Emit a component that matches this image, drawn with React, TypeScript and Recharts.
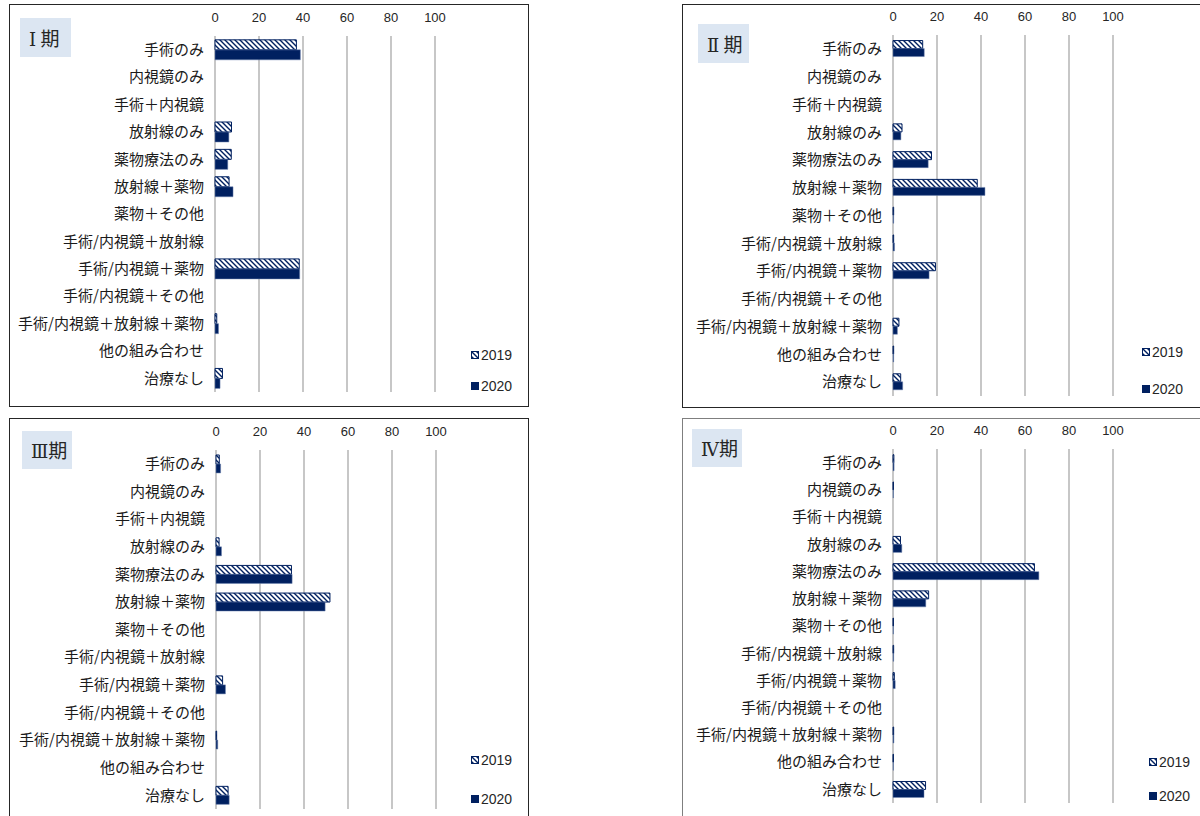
import React from 'react';
import { BarChart, Bar, XAxis, YAxis, CartesianGrid } from 'recharts';

const categories = [
  '手術のみ',
  '内視鏡のみ',
  '手術＋内視鏡',
  '放射線のみ',
  '薬物療法のみ',
  '放射線＋薬物',
  '薬物＋その他',
  '手術/内視鏡＋放射線',
  '手術/内視鏡＋薬物',
  '手術/内視鏡＋その他',
  '手術/内視鏡＋放射線＋薬物',
  '他の組み合わせ',
  '治療なし',
];

const xTicks = [0, 20, 40, 60, 80, 100];
const seriesNames = ['2019', '2020'];
const stageNumerals = ['Ⅰ', 'Ⅱ', 'Ⅲ', 'Ⅳ'];
const stageSuffix = '期';

const stage1_2019 = [37.0, 0, 0, 7.5, 7.4, 6.4, 0, 0, 38.3, 0, 0.8, 0, 3.4];
const stage1_2020 = [38.8, 0, 0, 6.3, 5.8, 8.2, 0, 0, 38.5, 0, 1.6, 0, 2.3];

const stage2_2019 = [13.5, 0, 0, 4.1, 17.5, 38.3, 0.3, 0.3, 19.3, 0, 2.7, 0.3, 3.5];
const stage2_2020 = [14.2, 0, 0, 3.6, 16.0, 41.8, 0.3, 0.7, 16.4, 0, 2.0, 0.3, 4.4];

const stage3_2019 = [1.5, 0, 0, 1.4, 34.3, 51.8, 0, 0, 3.0, 0, 0.3, 0, 5.5];
const stage3_2020 = [2.1, 0, 0, 2.5, 34.6, 49.6, 0, 0, 4.3, 0, 0.8, 0, 6.0];

const stage4_2019 = [0.4, 0.2, 0, 3.4, 64.3, 16.2, 0.2, 0.3, 0.6, 0, 0.3, 0.2, 14.8];
const stage4_2020 = [0.5, 0.2, 0, 4.0, 66.3, 14.9, 0.2, 0.3, 1.0, 0, 0.4, 0.2, 14.1];

const boundaryTicks = categories.map((_, i) => i).concat([categories.length]);

const NAVY = '#002060';
const AXIS_GRAY = '#d9d9d9';
const GRID_GRAY = '#b4b4b4';
const JP_FONT = "'Noto Sans CJK JP', 'Noto Sans', sans-serif";
const NUM_FONT = "'Liberation Sans', Arial, sans-serif";
const SERIF_FONT = "'DejaVu Serif', 'Liberation Serif', 'Noto Sans CJK JP', serif";

function buildRows(a: number[], b: number[]) {
  return categories.map((name, i) => ({ name, y2019: a[i], y2020: b[i] }));
}

type PanelProps = {
  pid: string;
  numeral: string;
  spaced: boolean;
  a: number[];
  b: number[];
  boxLeft: number;
  boxTop: number;
  boxW: number;
  boxH: number;
  x0: number;
  x1: number;
  y0: number;
  y1: number;
  chartW: number;
  gap: string;
  labelBox: { left: number; top: number; w: number; h: number };
  legend: { left: number; y1: number; y2: number };
  borderColor?: string;
};

function HatchDef({ id }: { id: string }) {
  return (
    <pattern id={id} patternUnits="userSpaceOnUse" width="5" height="5">
      <rect x="0" y="0" width="5" height="5" fill="#ffffff" />
      <path d="M-1,-1 L6,6 M4,-1 L6,1 M-1,4 L1,6" stroke={NAVY} strokeWidth="1.4" />
    </pattern>
  );
}

function Panel(p: PanelProps) {
  const rows = buildRows(p.a, p.b);
  const contentH = p.boxH - 2;
  const hatchId = 'hatch-' + p.pid;
  const legHatchId = 'leghatch-' + p.pid;
  return (
    <div
      style={{
        position: 'absolute',
        left: p.boxLeft,
        top: p.boxTop,
        width: p.boxW,
        height: p.boxH,
        boxSizing: 'border-box',
        border: '1px solid ' + (p.borderColor || '#262626'),
        background: '#ffffff',
      }}
    >
      <div
        style={{
          position: 'absolute',
          left: p.labelBox.left,
          top: p.labelBox.top,
          width: p.labelBox.w,
          height: p.labelBox.h,
          background: '#dce6f2',
          fontFamily: JP_FONT,
          fontSize: 19,
          color: '#262626',
          lineHeight: p.labelBox.h + 'px',
          paddingLeft: 9,
          boxSizing: 'border-box',
          whiteSpace: 'nowrap',
        }}
      >
        <span style={{ fontFamily: SERIF_FONT, fontSize: 18 }}>{p.numeral}</span>
        {p.spaced ? ' ' : ''}
        {stageSuffix}
      </div>
      <div style={{ position: 'absolute', left: 0, top: 0 }}>
        <BarChart
          width={p.chartW}
          height={contentH}
          data={rows}
          layout="vertical"
          barCategoryGap={p.gap}
          barGap={0}
          margin={{ top: p.y0 - 30, right: p.chartW - p.x1, bottom: contentH - p.y1, left: 0 }}
        >
          <defs>
            <HatchDef id={hatchId} />
          </defs>
          <CartesianGrid horizontal={false} stroke={GRID_GRAY} strokeWidth={1.5} />
          <XAxis
            type="number"
            orientation="top"
            domain={[0, 100]}
            ticks={xTicks}
            axisLine={false}
            tickLine={false}
            tickSize={0}
            tickMargin={14}
            height={30}
            tick={{ fill: '#262626', fontSize: 13, fontFamily: NUM_FONT }}
          />
          <YAxis
            yAxisId="bound"
            type="number"
            domain={[0, categories.length]}
            ticks={boundaryTicks}
            reversed
            width={0}
            tick={false}
            tickSize={4}
            tickLine={{ stroke: AXIS_GRAY, strokeWidth: 1.5 }}
            axisLine={{ stroke: AXIS_GRAY, strokeWidth: 2 }}
          />
          <YAxis
            type="category"
            dataKey="name"
            width={p.x0}
            interval={0}
            axisLine={false}
            tickLine={false}
            tickSize={0}
            tickMargin={11}
            tick={{ fill: '#1a1a1a', fontSize: 15, fontFamily: JP_FONT }}
          />
          <Bar
            dataKey="y2019"
            name={seriesNames[0]}
            fill={'url(#' + hatchId + ')'}
            stroke={NAVY}
            strokeWidth={1}
            isAnimationActive={false}
          />
          <Bar dataKey="y2020" name={seriesNames[1]} fill={NAVY} stroke="#6f84b0" strokeWidth={0.5} isAnimationActive={false} />
        </BarChart>
      </div>
      {[0, 1].map((k) => (
        <div
          key={k}
          style={{
            position: 'absolute',
            left: p.legend.left,
            top: (k === 0 ? p.legend.y1 : p.legend.y2) - 9,
            height: 18,
            display: 'flex',
            alignItems: 'center',
            fontFamily: NUM_FONT,
            fontSize: 14,
            color: '#262626',
            whiteSpace: 'nowrap',
          }}
        >
          <svg width={8} height={8} style={{ marginRight: 2 }}>
            {k === 0 ? (
              <>
                <defs>
                  <HatchDef id={legHatchId} />
                </defs>
                <rect x={0.5} y={0.5} width={7} height={7} fill={'url(#' + legHatchId + ')'} stroke={NAVY} strokeWidth={1} />
              </>
            ) : (
              <rect x={0} y={0} width={8} height={8} fill={NAVY} />
            )}
          </svg>
          <span>{seriesNames[k]}</span>
        </div>
      ))}
    </div>
  );
}

export default function App() {
  return (
    <div style={{ position: 'absolute', left: 0, top: 0, width: 1200, height: 816, overflow: 'hidden', background: '#ffffff' }}>
      <Panel
        pid="p1"
        numeral={stageNumerals[0]}
        spaced
        a={stage1_2019}
        b={stage1_2020}
        boxLeft={9}
        boxTop={4}
        boxW={520}
        boxH={403}
        x0={205}
        x1={425}
        y0={31}
        y1={387}
        chartW={518}
        gap="14%"
        labelBox={{ left: 10, top: 13, w: 51, h: 39 }}
        legend={{ left: 461, y1: 350, y2: 381 }}
      />
      <Panel
        pid="p2"
        numeral={stageNumerals[1]}
        spaced
        a={stage2_2019}
        b={stage2_2020}
        boxLeft={682}
        boxTop={4}
        boxW={600}
        boxH={404}
        x0={210}
        x1={430}
        y0={30}
        y1={391}
        chartW={517}
        gap="20%"
        labelBox={{ left: 15, top: 19, w: 51, h: 39 }}
        legend={{ left: 459, y1: 347, y2: 384 }}
      />
      <Panel
        pid="p3"
        numeral={stageNumerals[2]}
        spaced={false}
        a={stage3_2019}
        b={stage3_2020}
        boxLeft={9}
        boxTop={418}
        boxW={520}
        boxH={420}
        x0={206}
        x1={426}
        y0={31}
        y1={390}
        chartW={518}
        gap="18%"
        labelBox={{ left: 12, top: 12, w: 50, h: 38 }}
        legend={{ left: 461, y1: 341, y2: 380 }}
        borderColor="#262626"
      />
      <Panel
        pid="p4"
        numeral={stageNumerals[3]}
        spaced={false}
        a={stage4_2019}
        b={stage4_2020}
        boxLeft={682}
        boxTop={418}
        boxW={600}
        boxH={420}
        x0={210}
        x1={430}
        y0={30}
        y1={384}
        chartW={517}
        gap="21%"
        labelBox={{ left: 9, top: 10, w: 50, h: 38 }}
        legend={{ left: 466, y1: 343, y2: 377 }}
        borderColor="#7f7f7f"
      />
    </div>
  );
}
